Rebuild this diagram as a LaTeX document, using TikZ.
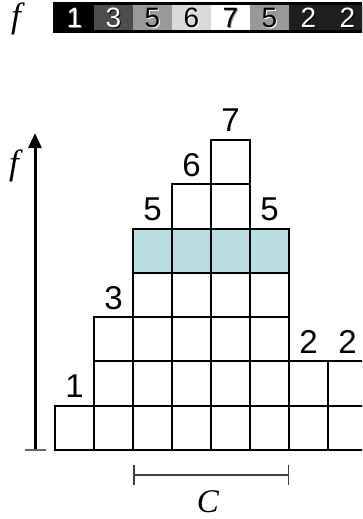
\documentclass[tikz,border=0pt]{standalone}
\usepackage{fontspec}
\setmainfont{Liberation Serif}
\setsansfont{Liberation Sans}
\usetikzlibrary{arrows.meta}
\definecolor{tealfill}{RGB}{185,222,226}
\definecolor{gA}{RGB}{0,0,0}
\definecolor{gB}{RGB}{77,77,77}
\definecolor{gC}{RGB}{153,153,153}
\definecolor{gD}{RGB}{218,218,218}
\definecolor{gE}{RGB}{255,255,255}
\definecolor{gF}{RGB}{153,153,153}
\definecolor{gG}{RGB}{30,30,30}
\definecolor{gH}{RGB}{30,30,30}
\begin{document}
\begin{tikzpicture}[x=1pt,y=-1pt,
  cell/.style={draw=black,line width=2pt},
  lab/.style={font=\sffamily\fontsize{33}{33}\selectfont,anchor=base,inner sep=0pt},
  barnum/.style={font=\sffamily\fontsize{28}{28}\selectfont,inner sep=0pt},
  ital/.style={font=\itshape\fontsize{35}{35}\selectfont,inner sep=0pt}]
\useasboundingbox (0,0) rectangle (362,519);
\clip (0,0) rectangle (362,519);
% top bar
\fill[black] (53,2) rectangle (366,33);
\foreach \c [count=\i from 0] in {gA,gB,gC,gD,gE,gF,gG,gH}{
  \fill[\c] ({55+39*\i},5) rectangle ({94+39*\i},30);
}
\foreach \v/\tc/\sc [count=\i from 0] in {1/white/gray,3/white/black,5/black/white,6/black/white,7/black/gray,5/black/white,2/white/black,2/white/black}{
  \node[barnum,text=\sc] at ({75.5+39*\i},19) {\v};
  \node[barnum,text=\tc] (b\i) at ({74.5+39*\i},18) {\v};
}
\node[ital] (ftop) at (16,19) {f};
% shaded row
\fill[tealfill] (133,272.8) rectangle (289,228.5);
% grid
\foreach \h [count=\i from 0] in {1,3,5,6,7,5,2,2}{
  \foreach \k in {1,...,\h}{
    \draw[cell] ({55+39*\i},{450-44.3*(\k-1)}) rectangle ++(39,-44.3);
  }
  \node[lab] (n\i) at ({74.5+39*\i},{450-44.3*\h-8}) {\h};
}
% axis
\coordinate (ab) at (35,450);
\coordinate (at) at (35,133);
\draw[line width=3pt,-{Triangle[width=13pt,length=15pt]}] (ab) -- (at);
\coordinate (tl) at (25,450);
\coordinate (tr) at (46,450);
\draw[line width=2pt,black!60] (tl) -- (tr);
\node[ital] (fax) at (14,166) {f};
% C bracket
\coordinate (cl) at (133,475);
\coordinate (cr) at (289,475);
\draw[line width=1.5pt,black!75,{Bar[width=20pt]}-{Bar[width=20pt]}] (cl) -- (cr);
\node[ital,font=\itshape\fontsize{33}{33}\selectfont] (C) at (208,501.5) {C};
\end{tikzpicture}
\end{document}
